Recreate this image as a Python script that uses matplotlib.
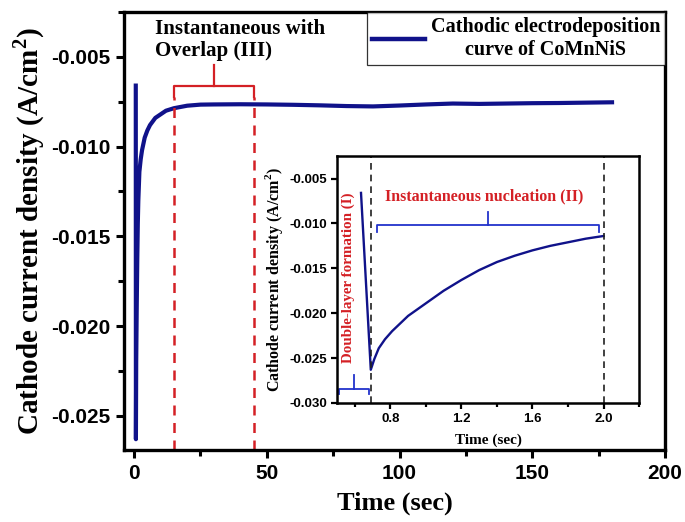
import numpy as np
import matplotlib
matplotlib.use('Agg')
import matplotlib.pyplot as plt

plt.rcParams['mathtext.fontset'] = 'custom'
plt.rcParams['mathtext.rm'] = 'Liberation Serif:bold'
plt.rcParams['mathtext.bf'] = 'Liberation Serif:bold'

# main transient (time in s, current density in A/cm2)
t_main = [0.64, 0.69, 0.8, 1.0, 1.2, 1.4, 1.6, 2.0, 2.5, 3, 4, 5, 6, 8, 10,
          12, 15, 20, 25, 30, 40, 50, 60, 70, 80, 90, 100, 110, 120, 130, 140,
          150, 160, 170, 180]
j_main = [-0.0066, -0.0263, -0.0220, -0.0189, -0.0163, -0.0143, -0.0130,
          -0.0114, -0.0107, -0.0102, -0.0095, -0.0091, -0.0088, -0.0084,
          -0.0082, -0.0080, -0.00786, -0.00772, -0.00766, -0.00765, -0.00764,
          -0.00765, -0.00767, -0.0077, -0.00774, -0.00776, -0.00771, -0.00765,
          -0.0076, -0.00762, -0.0076, -0.00758, -0.00757, -0.00755, -0.00753]

# zoom on the first two seconds
t_ins = [0.635, 0.69, 0.71, 0.735, 0.77, 0.81, 0.9, 1.0, 1.1, 1.2, 1.3, 1.4,
         1.5, 1.6, 1.7, 1.8, 1.9, 2.0]
j_ins = [-0.0066, -0.0263, -0.0251, -0.0239, -0.0229, -0.0220, -0.0203,
         -0.0189, -0.0175, -0.0163, -0.0152, -0.0143, -0.0136, -0.0130,
         -0.0125, -0.0121, -0.0117, -0.0114]

stage3 = [15, 45]
stage_lines = [0.69, 2.0]

navy = '#10128a'
red = '#d42025'
blue = '#2233cc'
serif = 'Liberation Serif'
sans = 'Liberation Sans'

fig = plt.figure(figsize=(6.85, 5.22), dpi=100)
ax = fig.add_axes([0.181, 0.138, 0.790, 0.839])

ax.plot(t_main, j_main, color=navy, lw=3, label='Cathodic electrodeposition\ncurve of CoMnNiS')
ax.set_xlim(-3.8, 200)
ax.set_ylim(-0.0269, -0.0025)
ax.set_xticks([0, 50, 100, 150, 200])
ax.set_xticks([25, 75, 125, 175], minor=True)
ax.set_yticks([-0.025, -0.020, -0.015, -0.010, -0.005])
ax.set_yticks([-0.0225, -0.0175, -0.0125, -0.0075, -0.0025], minor=True)
ax.set_yticklabels(['-0.025', '-0.020', '-0.015', '-0.010', '-0.005'])
for lab in ax.get_xticklabels() + ax.get_yticklabels():
    lab.set_fontfamily(sans)
    lab.set_fontweight('bold')
    lab.set_fontsize(15)
ax.tick_params(which='major', direction='out', length=6, width=2.2, pad=4)
ax.tick_params(which='minor', direction='out', length=4, width=2.2)
for s in ax.spines.values():
    s.set_linewidth(2.4)

ax.set_xlabel('Time (sec)', fontfamily=serif, fontweight='bold', fontsize=19, labelpad=6)
ax.set_ylabel(r'Cathode current density (A/cm$^{\mathbf{2}}$)', fontfamily=serif,
              fontweight='bold', fontsize=21, labelpad=3)

# stage III markers
for x in stage3:
    ax.plot([x, x], [-0.0269, -0.00722], color=red, lw=1.8, ls=(0, (4, 3)))
bx0, bx1 = stage3
bm = (bx0 + bx1) / 2
ax.plot([bx0, bx0, bx1, bx1], [-0.00722, -0.00662, -0.00662, -0.00722], color=red, lw=1.6)
ax.plot([bm, bm], [-0.00662, -0.00545], color=red, lw=1.6)
ax.text(7.8, -0.0029, 'Instantaneous with\nOverlap (III)', fontfamily=serif,
        fontweight='bold', fontsize=15, ha='left', va='top', linespacing=1.1)

leg = ax.legend(loc='upper right', borderaxespad=0, fancybox=False,
                prop={'family': serif, 'weight': 'bold', 'size': 14.5},
                handlelength=2.6, handletextpad=0.3, borderpad=0.25)
leg.get_frame().set_edgecolor('black')
leg.get_frame().set_linewidth(0.9)
leg.get_texts()[0].set_multialignment('center')
leg.get_lines()[0].set_linewidth(3.2)

# inset
ins = fig.add_axes([0.492, 0.228, 0.441, 0.473])
ins.set_facecolor('white')
ins.plot(t_ins, j_ins, color=navy, lw=1.7)
ins.set_xlim(0.5, 2.2)
ins.set_ylim(-0.030, -0.0025)
for x in stage_lines:
    ins.axvline(x, color='#202020', lw=1.2, ls=(0, (4, 3)))
ins.set_xticks([0.8, 1.2, 1.6, 2.0])
ins.set_xticks([0.6, 1.0, 1.4, 1.8, 2.2], minor=True)
ins.set_yticks([-0.030, -0.025, -0.020, -0.015, -0.010, -0.005])
ins.set_yticklabels(['-0.030', '-0.025', '-0.020', '-0.015', '-0.010', '-0.005'])
for lab in ins.get_xticklabels() + ins.get_yticklabels():
    lab.set_fontfamily(sans)
    lab.set_fontweight('bold')
    lab.set_fontsize(9.5)
ins.tick_params(which='major', direction='out', length=4, width=1.6, pad=3)
ins.tick_params(which='minor', direction='out', length=3, width=1.6)
for s in ins.spines.values():
    s.set_linewidth(1.8)
ins.set_xlabel('Time (sec)', fontfamily=serif, fontweight='bold', fontsize=11, labelpad=6)
ins.set_ylabel(r'Cathode current density (A/cm$^{\mathbf{2}}$)', fontfamily=serif,
               fontweight='bold', fontsize=11.5, labelpad=3)

# bracket for stage II
ins.plot([0.725, 0.725, 1.977, 1.977], [-0.0110, -0.0102, -0.0102, -0.0110], color=blue, lw=1.3)
ins.plot([1.35, 1.35], [-0.0102, -0.0087], color=blue, lw=1.3)
# bracket for stage I
ins.plot([0.51, 0.51, 0.68, 0.68], [-0.0290, -0.0284, -0.0284, -0.0290], color=blue, lw=1.3)
ins.plot([0.595, 0.595], [-0.0284, -0.0269], color=blue, lw=1.3)

ins.text(1.33, -0.0070, 'Instantaneous nucleation (II)', color=red, fontfamily=serif,
         fontweight='bold', fontsize=11.5, ha='center', va='center')
ins.text(0.563, -0.0161, 'Double-layer formation (I)', color=red, fontfamily=serif,
         fontweight='bold', fontsize=10.8, ha='center', va='center', rotation=90)

fig.savefig('out.png', dpi=100)
